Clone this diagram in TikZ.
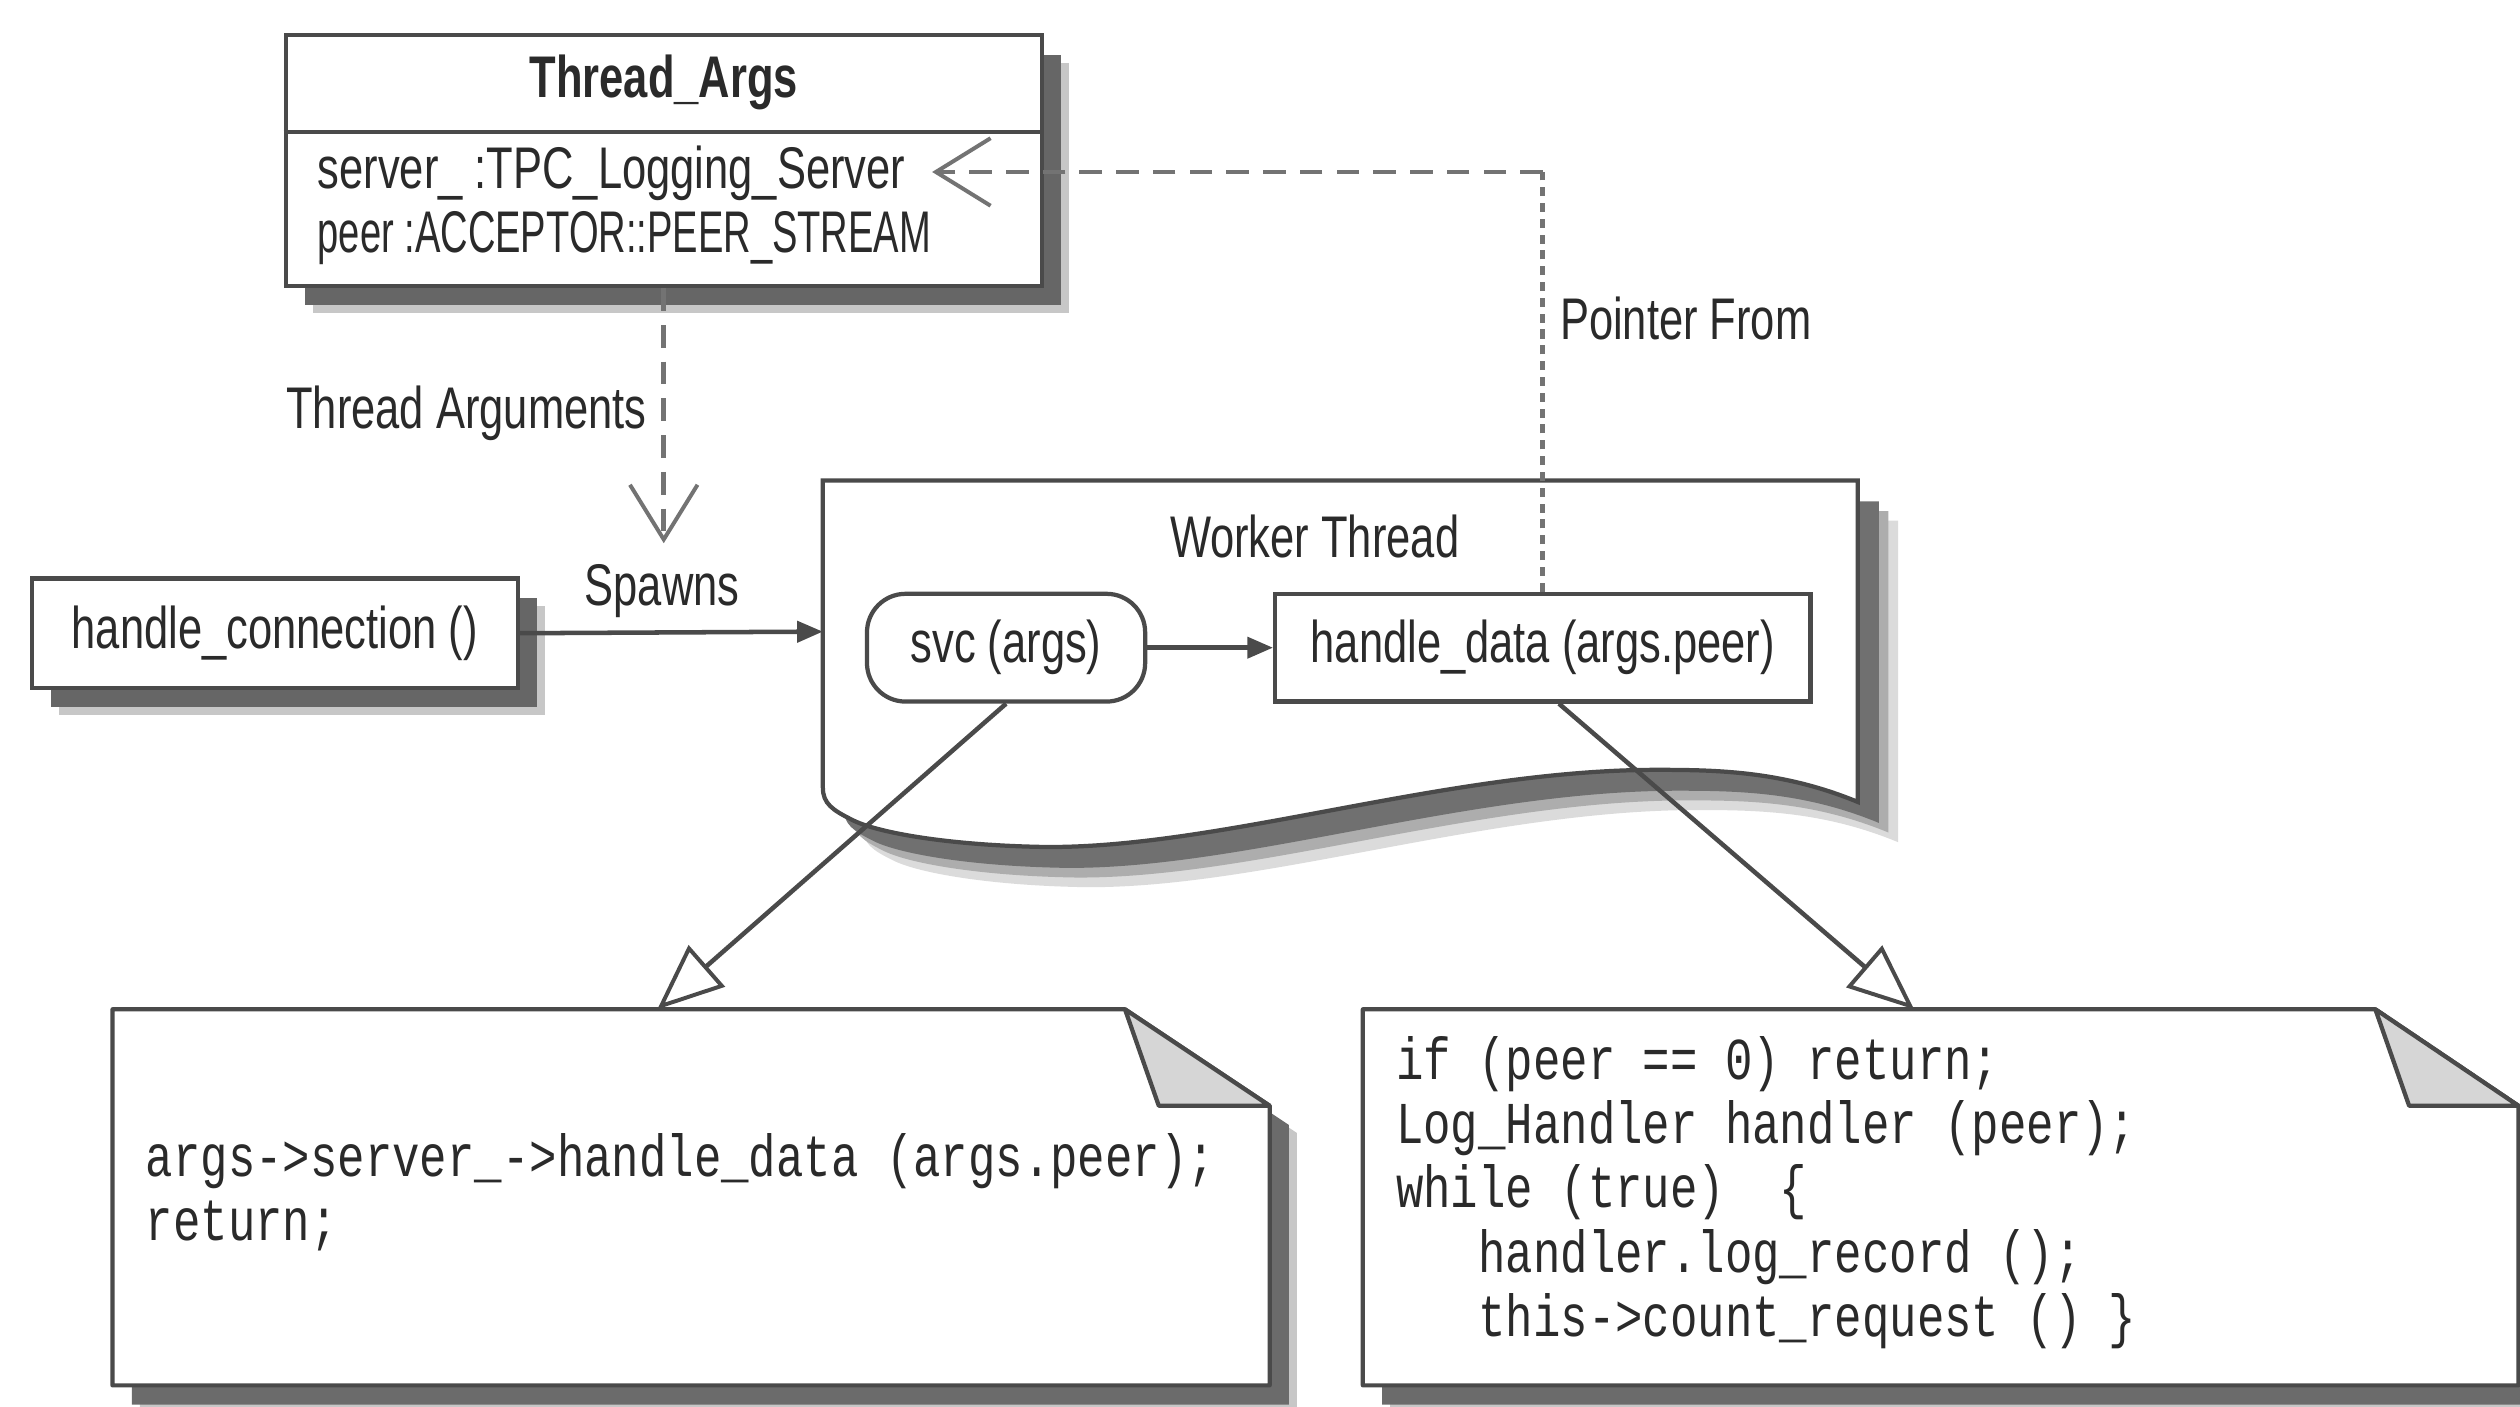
\documentclass[tikz,border=0pt]{standalone}
\usepackage{fontspec}
\setmainfont{Liberation Sans}[FakeStretch=0.74]
\newfontfamily\codefont{Liberation Mono}[FakeStretch=0.77]
\usetikzlibrary{arrows.meta,shadows}
\definecolor{ln}{HTML}{4A4A4A}
\definecolor{tx}{HTML}{2A2A2A}
\begin{document}
\begin{tikzpicture}[x=0.01cm,y=-0.01cm,
  font=\fontsize{10.4}{12}\selectfont, text=tx,
  box/.style={draw=ln,line width=0.75pt,fill=white,inner sep=0pt},
  shad/.style={drop shadow={shadow xshift=0.17cm,shadow yshift=-0.17cm,fill=black!22,opacity=1},
               drop shadow={shadow xshift=0.12cm,shadow yshift=-0.12cm,fill=black!60,opacity=1}},
  lbl/.style={inner sep=0pt},
  code/.style={font=\codefont\fontsize{10.5}{11.38}\selectfont, align=left, inner sep=0pt, anchor=west},
  dsh/.style={draw=black!55, line width=0.8pt, dash pattern=on 4pt off 2.5pt},
  vdsh/.style={draw=black!55, line width=0.9pt, dash pattern=on 1.6pt off 1.2pt},
  barb/.style={-{Straight Barb[length=0.34cm,width=0.42cm,line width=0.7pt]}},
  solidtip/.style={-{Triangle[length=0.16cm,width=0.13cm]}},
  hollow/.style={-{Triangle[length=0.41cm,width=0.34cm,fill=white,line width=0.7pt]}},
  conn/.style={draw=ln,line width=0.8pt}
]
\useasboundingbox (0,0) rectangle (1568,875);

% Thread_Args class box
\node[box, shad, minimum width=4.70cm, minimum height=1.56cm] (TA) at (413,100) {};
\draw[ln, line width=0.75pt] (TA.west |- 0,82) -- (TA.east |- 0,82);
\node[lbl, font=\bfseries\fontsize{10.4}{12}\selectfont] (TAt) at (413,51) {Thread\_Args};
\node[anchor=west, lbl] (srv) at (197,108) {server\_ :TPC\_Logging\_Server};
\node[anchor=west, lbl] (peer) at (197,148) {\scalebox{0.876}[1]{peer :ACCEPTOR::PEER\_STREAM}};

% handle_connection
\node[box, shad, minimum width=3.02cm, minimum height=0.68cm] (hc) at (171,394) {handle\_connection ()};

% Worker Thread (wavy document shape)
\foreach \s/\c in {25/14,19/32,13/56}{
  \fill[black!\c, shift={(\s,\s)}] (512,299) -- (1156,299) -- (1156,499)
    .. controls (1110,480) and (1070,479) .. (1031,479)
    .. controls (900,479) and (760,528) .. (650,527)
    .. controls (590,526) and (545,518) .. (530,510)
    .. controls (518,504) and (512,500) .. (512,490) -- cycle;
}
\draw[ln, line width=0.75pt, fill=white] (512,299) -- (1156,299) -- (1156,499)
    .. controls (1110,480) and (1070,479) .. (1031,479)
    .. controls (900,479) and (760,528) .. (650,527)
    .. controls (590,526) and (545,518) .. (530,510)
    .. controls (518,504) and (512,500) .. (512,490) -- cycle;
\coordinate (wtl) at (512,393);
\node[lbl] (wtt) at (818,334) {Worker Thread};

\node[box, rounded corners=0.24cm, minimum width=1.73cm, minimum height=0.67cm] (svc) at (626,403) {svc (args)};
\node[box, minimum width=3.33cm, minimum height=0.67cm] (hd) at (960,403) {handle\_data (args.peer)};

% Notes
\foreach \s/\c in {17/22,12/58}{
  \fill[black!\c, shift={(\s,\s)}] (70,628) -- (700,628) -- (790,688) -- (790,862) -- (70,862) -- cycle;
  \fill[black!\c, shift={(\s,\s)}] (848,628) -- (1478,628) -- (1567,688) -- (1567,862) -- (848,862) -- cycle;
}
\draw[ln, line width=0.75pt, fill=white, line join=round] (70,628) -- (700,628) -- (790,688) -- (790,862) -- (70,862) -- cycle;
\draw[ln, line width=0.75pt, fill=black!16, line join=round] (700,628) -- (721,688) -- (790,688) -- cycle;
\draw[ln, line width=0.75pt, fill=white, line join=round] (848,628) -- (1478,628) -- (1567,688) -- (1567,862) -- (848,862) -- cycle;
\draw[ln, line width=0.75pt, fill=black!16, line join=round] (1478,628) -- (1499,688) -- (1567,688) -- cycle;

\node[code] (c1) at (90,742) {args->server\_->handle\_data (args.peer);\\return;};
\node[code] (c2) at (868,742) {if (peer == 0) return;\\
Log\_Handler handler (peer);\\
while (true)\phantom{xx}\{\\
\phantom{xxx}handler.log\_record ();\\
\phantom{xxx}this->count\_request () \}};

\coordinate (n1) at (409,628);
\coordinate (n2) at (1191,628);

% Connectors
\coordinate (targ) at (413,338);
\draw[dsh, barb] (TA.south) -- (targ);
\node[anchor=east, lbl] (tal) at (403,257) {Thread Arguments};

\coordinate (pc) at (960,107);
\coordinate (ptip) at (580,107);
\draw[vdsh] (hd.north) -- (pc);
\draw[dsh, barb] (pc) -- (ptip);
\node[anchor=west, lbl] (pfl) at (970,198) {Pointer From};

\draw[conn, solidtip] (hc.east) -- (wtl);
\node[lbl] (sp) at (412,368) {Spawns};
\draw[conn, solidtip] (svc.east) -- (hd.west);

\draw[conn, hollow] (svc.south) -- (n1);
\draw[conn, hollow] ([xshift=0.1cm]hd.south) -- (n2);
\end{tikzpicture}
\end{document}
